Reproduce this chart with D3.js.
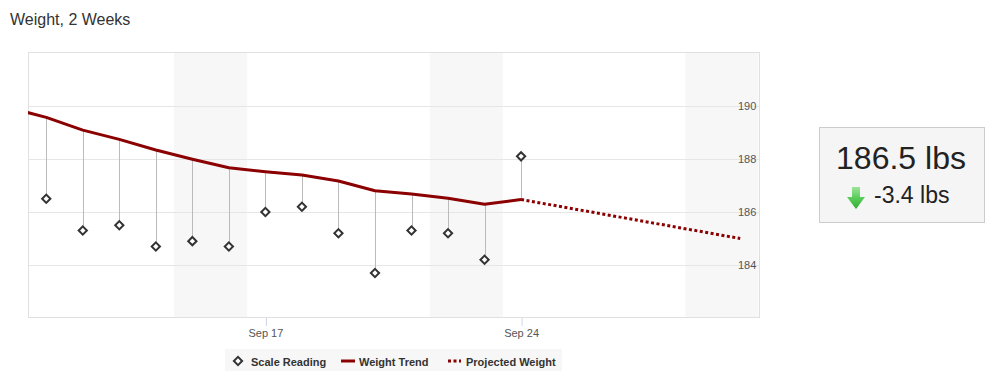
<!DOCTYPE html>
<html><head><meta charset="utf-8">
<script src="https://cdn.jsdelivr.net/npm/d3@7"></script>
<style>body{margin:0;background:#fff;}svg{display:block;}</style>
</head><body>
<svg id="c" width="998" height="385"></svg>
<script>
// ---- data ----
const readingDates = ["2018-09-11","2018-09-12","2018-09-13","2018-09-14","2018-09-15","2018-09-16","2018-09-17","2018-09-18","2018-09-19","2018-09-20","2018-09-21","2018-09-22","2018-09-23","2018-09-24"];
const scaleReadings = [186.5,185.3,185.5,184.7,184.9,184.7,186.0,186.2,185.2,183.7,185.3,185.2,184.2,188.1];
const trendDates = ["2018-09-10","2018-09-11","2018-09-12","2018-09-13","2018-09-14","2018-09-15","2018-09-16","2018-09-17","2018-09-18","2018-09-19","2018-09-20","2018-09-21","2018-09-22","2018-09-23","2018-09-24"];
const trendValues = [189.93,189.57,189.09,188.74,188.34,187.99,187.67,187.52,187.40,187.17,186.80,186.68,186.52,186.29,186.47];
const projectedDates = ["2018-09-24","2018-09-30"];
const projectedValues = [186.47,185.0];
const weekendStarts = ["2018-09-15","2018-09-22","2018-09-29"];
const xTickDates = ["2018-09-17","2018-09-24"];
const yTicks = [184,186,188,190];
const title = "Weight, 2 Weeks";
const currentWeight = "186.5 lbs";
const weightChange = "-3.4 lbs";
const legendLabels = ["Scale Reading","Weight Trend","Projected Weight"];

// ---- layout ----
const parse = d3.utcParse("%Y-%m-%d");
const L = 28, R = 760, T = 53, B = 318;
const svg = d3.select("#c");
const HOUR = 3600e3;
const x = d3.scaleUtc()
  .domain([new Date(parse("2018-09-10").getTime() + 12*HOUR), new Date(parse("2018-09-30").getTime() + 13*HOUR)])
  .range([L, R]);
const y = d3.scaleLinear().domain([182, 192]).range([B, T]);
const COL = "#8b0000";
const FONT = "'Liberation Sans', Arial, Helvetica, sans-serif";

svg.append("text").attr("x", 10).attr("y", 25).attr("font-family", FONT)
  .attr("font-size", 16).attr("fill", "#333").text(title);

svg.append("defs").append("clipPath").attr("id", "clip")
  .append("rect").attr("x", L).attr("y", T - 1).attr("width", R - L).attr("height", B - T + 1);

const plot = svg.append("g");
plot.append("rect").attr("x", L).attr("y", T - 1).attr("width", R - L).attr("height", B - T + 1).attr("fill", "#fff");

// weekend bands
plot.append("g").attr("clip-path", "url(#clip)").selectAll("rect").data(weekendStarts).join("rect")
  .attr("x", d => x(new Date(parse(d).getTime() - 12*HOUR)))
  .attr("width", d => x(new Date(parse(d).getTime() + 36*HOUR)) - x(new Date(parse(d).getTime() - 12*HOUR)))
  .attr("y", T - 1).attr("height", B - T + 1).attr("fill", "#f7f7f7");

// grid
const grid = plot.append("g").attr("transform", `translate(${R},0)`)
  .call(d3.axisLeft(y).tickValues(yTicks).tickSize(R - L).tickFormat(""));
grid.select(".domain").remove();
grid.selectAll("line").attr("stroke", "#e6e6e6");

// border
plot.append("rect").attr("x", L + 0.5).attr("y", T - 0.5).attr("width", R - L - 1).attr("height", B - T)
  .attr("fill", "none").attr("stroke", "#e0e0e0");

// y labels
const ya = plot.append("g").attr("transform", `translate(738,0)`)
  .call(d3.axisRight(y).tickValues(yTicks).tickSize(0).tickPadding(0).tickFormat(d3.format("d")));
ya.select(".domain").remove();
ya.selectAll("text").attr("font-family", FONT).attr("font-size", 11).attr("fill", "#555").attr("dy", "0.36em");

// x axis
const xa = svg.append("g").attr("transform", `translate(0,${B})`)
  .call(d3.axisBottom(x).tickValues(xTickDates.map(parse)).tickSize(8).tickPadding(3).tickFormat(d3.utcFormat("%b %d")));
xa.select(".domain").remove();
xa.selectAll("line").attr("stroke", "#ccd6eb").attr("transform", "translate(0.5,0)");
xa.selectAll("text").attr("font-family", FONT).attr("font-size", 11).attr("fill", "#555");

const g = svg.append("g").attr("clip-path", "url(#clip)");
const trendMap = new Map(trendDates.map((d, i) => [d, trendValues[i]]));

// stems
g.selectAll("line.stem").data(readingDates).join("line").attr("class", "stem")
  .attr("x1", d => Math.round(x(parse(d))) + 0.5).attr("x2", d => Math.round(x(parse(d))) + 0.5)
  .attr("y1", d => y(trendMap.get(d))).attr("y2", (d, i) => y(scaleReadings[i]))
  .attr("stroke", "#bbb").attr("stroke-width", 1);

// trend line
const line = d3.line().x(d => x(parse(d[0]))).y(d => y(d[1]));
g.append("path").datum(trendDates.map((d, i) => [d, trendValues[i]]))
  .attr("d", line).attr("fill", "none").attr("stroke", COL).attr("stroke-width", 3).attr("stroke-linejoin", "round");

// projection
g.append("path").datum(projectedDates.map((d, i) => [d, projectedValues[i]]))
  .attr("d", line)
  .attr("fill", "none").attr("stroke", COL).attr("stroke-width", 3).attr("stroke-dasharray", "3,2.5");

// diamonds
const diamond = d3.symbol().type(d3.symbolSquare).size(34);
svg.append("g").selectAll("path").data(readingDates).join("path")
  .attr("transform", (d, i) => `translate(${x(parse(d))},${y(scaleReadings[i])}) rotate(45)`)
  .attr("d", diamond).attr("fill", "#fff").attr("stroke", "#333").attr("stroke-width", 2);

// legend
const lg = svg.append("g");
lg.append("rect").attr("x", 225).attr("y", 349).attr("width", 337).attr("height", 22).attr("fill", "#f7f7f7");
lg.append("path").attr("transform", "translate(238,361) rotate(45)").attr("d", diamond)
  .attr("fill", "#fff").attr("stroke", "#333").attr("stroke-width", 2);
lg.append("line").attr("x1", 341).attr("x2", 355).attr("y1", 361).attr("y2", 361).attr("stroke", COL).attr("stroke-width", 3);
lg.append("line").attr("x1", 448).attr("x2", 461).attr("y1", 361).attr("y2", 361).attr("stroke", COL).attr("stroke-width", 3).attr("stroke-dasharray", "3,2.5");
const lx = [251, 359, 466];
lg.selectAll("text").data(legendLabels).join("text")
  .attr("x", (d, i) => lx[i]).attr("y", 365.5)
  .attr("font-family", FONT).attr("font-size", 11).attr("font-weight", "bold").attr("fill", "#333").text(d => d);

// stat box
const bx = svg.append("g");
bx.append("rect").attr("x", 819.5).attr("y", 127.5).attr("width", 165).attr("height", 95)
  .attr("fill", "#f5f5f5").attr("stroke", "#ccc");
bx.append("text").attr("x", 901).attr("y", 169).attr("text-anchor", "middle")
  .attr("font-family", FONT).attr("font-size", 32).attr("fill", "#222").text(currentWeight);
bx.append("text").attr("x", 874).attr("y", 203)
  .attr("font-family", FONT).attr("font-size", 23).attr("fill", "#222").text(weightChange);
const gr = svg.append("defs").append("linearGradient").attr("id", "ag").attr("x1", 0).attr("x2", 0).attr("y1", 0).attr("y2", 1);
gr.append("stop").attr("offset", "0%").attr("stop-color", "#9ce39c");
gr.append("stop").attr("offset", "45%").attr("stop-color", "#5fcf5f");
gr.append("stop").attr("offset", "100%").attr("stop-color", "#2fae2f");
bx.append("path").attr("d", "M852,187 L860,187 L860,197 L865,197 L856,209 L847,197 L852,197 Z").attr("fill", "url(#ag)");
</script>
</body></html>
